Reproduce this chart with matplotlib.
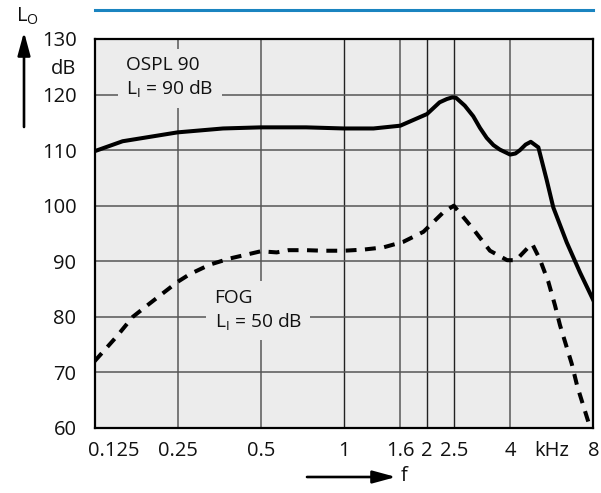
import matplotlib
matplotlib.use("Agg")
import matplotlib.pyplot as plt
from matplotlib.transforms import ScaledTranslation

plt.rcParams['font.family'] = ['Open Sans', 'DejaVu Sans']
plt.rcParams['mathtext.fontset'] = 'custom'
plt.rcParams['mathtext.rm'] = 'Open Sans'
plt.rcParams['mathtext.it'] = 'Open Sans'

# ---- data ----
ospl_f = [0.125, 0.158, 0.25, 0.365, 0.5, 0.73, 1.0, 1.28, 1.6, 2.0, 2.22, 2.36, 2.47, 2.55,
          2.74, 2.94, 3.11, 3.29, 3.48, 3.67, 4.0, 4.18, 4.34, 4.55, 4.75, 5.06, 5.42, 5.73,
          6.41, 7.16, 8.0]
ospl_db = [109.8, 111.6, 113.2, 113.9, 114.1, 114.1, 113.9, 113.9, 114.4, 116.5, 118.6, 119.2,
           119.5, 119.4, 118.0, 116.1, 114.0, 112.2, 110.9, 110.1, 109.2, 109.4, 110.0, 111.0,
           111.5, 110.5, 104.7, 99.7, 93.4, 88.0, 83.0]

fog_f = [0.125, 0.15, 0.172, 0.198, 0.234, 0.25, 0.277, 0.327, 0.386, 0.444, 0.5, 0.571,
         0.63, 0.73, 0.841, 1.0, 1.175, 1.39, 1.64, 1.94, 2.29, 2.5, 2.94, 3.38, 3.9, 4.2,
         4.65, 4.81, 5.12, 5.5, 5.81, 6.06, 6.68, 7.0, 7.8]
fog_db = [72.0, 76.4, 80.0, 82.4, 85.2, 86.3, 87.7, 89.4, 90.5, 91.2, 91.8, 91.6, 92.0, 92.0,
          91.9, 91.9, 92.1, 92.5, 93.5, 95.3, 98.8, 100.0, 95.8, 91.9, 90.2, 90.2, 92.5, 93.1,
          90.4, 86.3, 82.1, 78.5, 71.6, 67.5, 60.0]

x_ticks = [0.125, 0.25, 0.5, 1, 1.6, 2, 2.5, 4, 5.67, 8]
x_labels = ['0.125', '0.25', '0.5', '1', '1.6', '2', '2.5', '4', 'kHz', '8']
y_ticks = [60, 70, 80, 90, 100, 110, 120, 125, 130]
y_labels = ['60', '70', '80', '90', '100', '110', '120', 'dB', '130']
grid_x_gray = [0.25, 0.5, 1.6, 4]
grid_x_black = [1, 2, 2.5]
grid_y = [70, 80, 90, 100, 110, 120]

W, H = 601, 493
fig = plt.figure(figsize=(W / 100, H / 100), dpi=100)
ax = fig.add_axes([94.5 / W, (H - 428) / H, (593.3 - 94.5) / W, (428 - 39) / H])
ax.set_facecolor('#ececec')
ax.set_xscale('log')
ax.set_xlim(0.125, 8)
ax.set_ylim(60, 130)

for gx in grid_x_gray:
    ax.axvline(gx, color='#777777', lw=1.4, zorder=1)
for gx in grid_x_black:
    ax.axvline(gx, color='#222222', lw=1.0, zorder=1)
for gy in grid_y:
    ax.axhline(gy, color='#555555', lw=1.1, zorder=1)

ax.plot(ospl_f, ospl_db, color='black', lw=2.9, solid_joinstyle='round', zorder=3)
ax.plot(fog_f, fog_db, color='black', lw=2.9, dashes=(2.7, 2.1), zorder=3)

ax.set_xticks(x_ticks)
ax.set_xticklabels(x_labels)
ax.xaxis.set_minor_locator(plt.NullLocator())
ax.set_yticks(y_ticks)
ax.set_yticklabels(y_labels)
ax.tick_params(axis='both', length=0, labelsize=14.5, colors='#111111')
ax.tick_params(axis='y', pad=13)
ax.tick_params(axis='x', pad=9)
lbl0 = ax.get_xticklabels()[0]
lbl0.set_transform(lbl0.get_transform() + ScaledTranslation(19 / 100, 0, fig.dpi_scale_trans))

for s in ax.spines.values():
    s.set_linewidth(1.6)
    s.set_color('black')

box = dict(boxstyle='square,pad=0.45', facecolor='#ececec', edgecolor='none')
ax.text(0.163, 123.0, 'OSPL 90\nL$_{\\mathregular{I}}$ = 90 dB', fontsize=13.8, ha='left',
        va='center', linespacing=1.25, bbox=box, zorder=4, color='#111111')
ax.text(0.34, 81.2, 'FOG\nL$_{\\mathregular{I}}$ = 50 dB', fontsize=13.8, ha='left',
        va='center', linespacing=1.25, bbox=box, zorder=4, color='#111111')

# y axis label with arrow
fig.text(16 / W, (H - 16) / H, 'L$_{\\mathregular{O}}$', fontsize=14.5, ha='left', va='center',
         color='#111111')
arrow_style = '-|>,head_length=1.4,head_width=0.38'
fig.add_artist(matplotlib.patches.FancyArrowPatch(
    (24 / W, (H - 127) / H), (24 / W, (H - 32) / H), transform=fig.transFigure,
    arrowstyle=arrow_style, mutation_scale=10, lw=1.9, color='black',
    shrinkA=0, shrinkB=0))
# x axis label with arrow
fig.add_artist(matplotlib.patches.FancyArrowPatch(
    (307 / W, (H - 477) / H), (396 / W, (H - 477) / H), transform=fig.transFigure,
    arrowstyle=arrow_style, mutation_scale=10, lw=1.9, color='black',
    shrinkA=0, shrinkB=0))
fig.text(401 / W, (H - 476) / H, 'f', fontsize=14.5, ha='left', va='center', color='#111111')

# decorative blue rule at top
fig.add_artist(matplotlib.lines.Line2D([95 / W, 592.5 / W], [(H - 10) / H, (H - 10) / H],
                                       transform=fig.transFigure, color='#1a84c0', lw=2.2))

fig.savefig('out.png', dpi=100)
